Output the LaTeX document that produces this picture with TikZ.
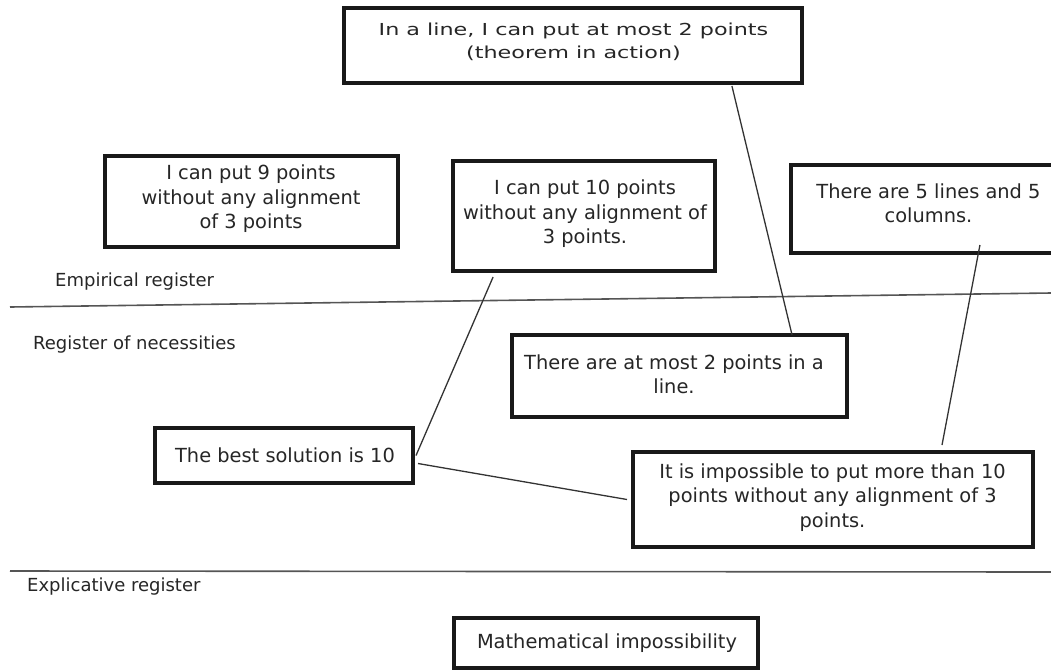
\documentclass[tikz,border=0pt]{standalone}
\usepackage{fontspec}
\setmainfont{DejaVu Sans}
\newfontfamily\widefont[FakeStretch=1.35]{DejaVu Sans}
\usetikzlibrary{calc}
\definecolor{ink}{HTML}{262626}
\definecolor{rule}{HTML}{555555}
\tikzset{
  box/.style={draw=black!90, line width=3.3pt, inner sep=0pt, outer sep=0pt, fill=white},
  txt/.style={text=ink, align=center, inner sep=0pt, font=\fontsize{19.4}{24.5}\selectfont},
  toptxt/.style={text=ink, align=center, inner sep=0pt, font=\widefont\fontsize{16.5}{23}\selectfont},
  reg/.style={text=ink, anchor=west, inner sep=0pt, font=\fontsize{18}{22}\selectfont},
  conn/.style={draw=black!80, line width=1.3pt},
  sep/.style={draw=rule, line width=1.6pt}
}
\begin{document}
\begin{tikzpicture}[x=1pt,y=-1pt]
\useasboundingbox (0,0) rectangle (1051,670);
% separators
\draw[sep] (10,307) -- (1051,293);
\draw[sep] (10,571) -- (1051,572);
% boxes
\node[box, minimum width=458pt, minimum height=75pt] (b1) at (573,45.5) {};
\node[toptxt] (t1) at (573.5,41.5) {In a line, I can put at most 2 points\\(theorem in action)};
\node[box, minimum width=293pt, minimum height=91pt] (b2) at (251.5,201.5) {};
\node[txt] (t2) at (251,199) {I can put 9 points\\without any alignment\\of 3 points};
\node[box, minimum width=262pt, minimum height=110pt] (b3) at (584,216) {};
\node[txt] (t3) at (585,214) {I can put 10 points\\without any alignment of\\3 points.};
\node[box, minimum width=275pt, minimum height=88pt] (b4) at (928.5,209) {};
\node[txt] (t4) at (928.5,203.5) {There are 5 lines and 5\\columns.};
\node[box, minimum width=335pt, minimum height=82pt] (b7) at (679.5,376) {};
\node[txt] (t7) at (674,374.5) {There are at most 2 points in a\\line.};
\node[box, minimum width=258pt, minimum height=55pt] (b8) at (284,455.5) {};
\node[txt] (t8) at (285,455) {The best solution is 10};
\node[box, minimum width=400pt, minimum height=95pt] (b9) at (833,499.5) {};
\node[txt] (t9) at (832.5,497.5) {It is impossible to put more than 10\\points without any alignment of 3\\points.};
\node[box, minimum width=304pt, minimum height=50pt] (b10) at (606,643) {};
\node[txt] (t10) at (607,643) {Mathematical impossibility};
% register labels
\node[reg] (r1) at (55,282) {Empirical register};
\node[reg] (r2) at (33,345) {Register of necessities};
\node[reg] (r3) at (27,587) {Explicative register};
% connectors
\draw[conn] ($(b1.south west)!0.847!(b1.south east)+(0,3)$) -- ($(b7.north west)!0.836!(b7.north east)$);
\draw[conn] ($(b3.south west)!0.153!(b3.south east)+(0,6)$) -- ($(b8.east)+(3,0)$);
\draw[conn] ($(b8.east)+(5,8)$) -- ($(b9.west)+(-6,0)$);
\draw[conn] ($(b4.south west)!0.687!(b4.south east)+(0,-8)$) -- ($(b9.north west)!0.7725!(b9.north east)+(0,-7)$);
\end{tikzpicture}
\end{document}
